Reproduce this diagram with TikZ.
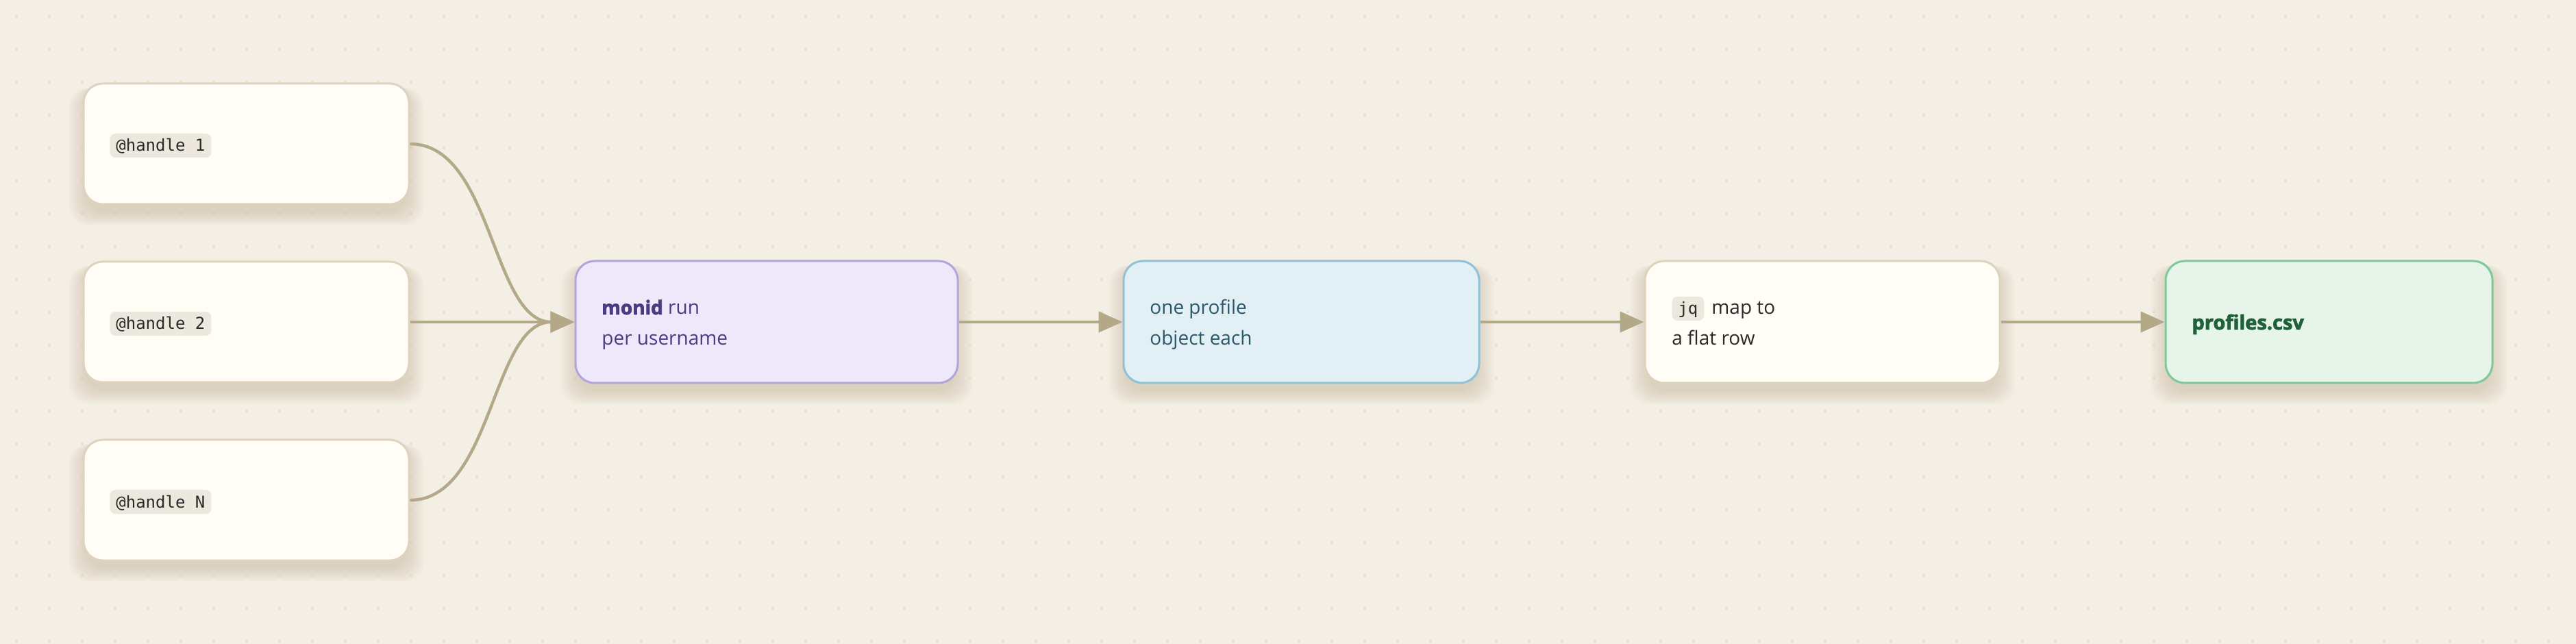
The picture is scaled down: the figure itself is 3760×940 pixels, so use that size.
\documentclass[tikz,border=0pt]{standalone}
\usepackage{fontspec}
\setmainfont{Open Sans}[BoldFeatures={FakeBold=2.5}]
\newfontfamily\codefont{DejaVu Sans Mono}
\usetikzlibrary{arrows.meta}
\definecolor{bgc}{HTML}{F3EFE5}
\definecolor{dotc}{HTML}{DFD8C7}
\definecolor{shadowc}{HTML}{A8966E}
\definecolor{plainfill}{HTML}{FFFDF6}
\definecolor{plainline}{HTML}{DDD3BF}
\definecolor{purplefill}{HTML}{EEE9FA}
\definecolor{purpleline}{HTML}{B4A4DE}
\definecolor{purpletext}{HTML}{4B3B82}
\definecolor{bluefill}{HTML}{E2F0F6}
\definecolor{blueline}{HTML}{8FC1D8}
\definecolor{bluetext}{HTML}{2A5868}
\definecolor{greenfill}{HTML}{E6F4EA}
\definecolor{greenline}{HTML}{80C79B}
\definecolor{greentext}{HTML}{1F6138}
\definecolor{conncol}{HTML}{B3A887}
\definecolor{codebg}{HTML}{EDE8DD}
\definecolor{darktext}{HTML}{2A2A2A}
\pgfdeclarelayer{bottom}
\pgfdeclarelayer{shade}
\pgfsetlayers{bottom,shade,main}
\tikzset{
  boxbase/.style={rounded corners=14pt, line width=1.5pt, inner sep=0pt, minimum height=89pt},
  plainbox/.style={boxbase, draw=plainline, fill=plainfill},
  purplebox/.style={boxbase, draw=purpleline, fill=purplefill},
  bluebox/.style={boxbase, draw=blueline, fill=bluefill},
  greenbox/.style={boxbase, draw=greenline, fill=greenfill},
  lbl/.style={font=\fontsize{14pt}{17pt}\selectfont, inner sep=0pt, anchor=base west},
  codelbl/.style={font=\codefont\fontsize{12pt}{14pt}\selectfont, fill=codebg, text=darktext,
    rounded corners=4pt, inner xsep=4.5pt, inner ysep=0pt, text height=13pt, text depth=4.5pt, anchor=base west},
  conn/.style={draw=conncol, line width=2.2pt, -{Triangle[length=17.5pt,width=15pt]}},
  shadelayer/.style={fill=shadowc, opacity=0.026, rounded corners=14pt}
}
\newcommand\boxshade[1]{%
  \begin{pgfonlayer}{shade}
  \foreach \k in {0,...,11} {%
    \fill[shadelayer] ([xshift=-\k*1.2pt+3pt, yshift=-5pt-\k*0.9pt]#1.south west) rectangle ([xshift=\k*1.2pt-3pt, yshift=-4pt]#1.north east);
  }
  \end{pgfonlayer}}
\begin{document}
\begin{tikzpicture}[x=0.5pt,y=-0.5pt]
\useasboundingbox (0,0) rectangle (3760,940);
\begin{pgfonlayer}{bottom}
\fill[bgc] (0,0) rectangle (3760,940);
\foreach \i in {0,...,77} {\foreach \j in {0,...,19} {\fill[dotc] (24+48*\i,24+48*\j) circle[radius=0.8pt];}}
\end{pgfonlayer}
% boxes
\node[plainbox, minimum width=237.5pt, minimum height=88pt] (h1) at (359.5,210) {};
\node[plainbox, minimum width=237.5pt, minimum height=88pt] (h2) at (359.5,470) {};
\node[plainbox, minimum width=237.5pt, minimum height=88pt] (hN) at (359.5,730) {};
\node[purplebox, minimum width=279pt] (m) at (1119,470) {};
\node[bluebox, minimum width=259.5pt] (p) at (1899.5,470) {};
\node[plainbox, minimum width=259pt] (j) at (2660,470) {};
\node[greenbox, minimum width=238.5pt] (c) at (3399.5,470) {};
\boxshade{h1}\boxshade{h2}\boxshade{hN}\boxshade{m}\boxshade{p}\boxshade{j}\boxshade{c}
% texts
\node[codelbl] (h1t) at (160,221) {@handle 1};
\node[codelbl] (h2t) at (160,481) {@handle 2};
\node[codelbl] (hNt) at (160,741) {@handle N};
\node[lbl, text=purpletext] (m1) at (878,459) {\textbf{monid} run};
\node[lbl, text=purpletext] (m2) at (878,504) {per username};
\node[lbl, text=bluetext] (p1) at (1678,459) {one profile};
\node[lbl, text=bluetext] (p2) at (1678,504) {object each};
\node[codelbl] (j0) at (2440,459) {jq};
\node[lbl, text=darktext] (j1) at (2498,459) {map to};
\node[lbl, text=darktext] (j2) at (2440,504) {a flat row};
\node[lbl, text=greentext, font=\fontsize{14.5pt}{17pt}\selectfont\bfseries] (c1) at (3199,481) {profiles.csv};
% connectors
\draw[conn] (h1.east) .. controls +(121,0) and +(-121,0) .. (m.west);
\draw[conn] (h2.east) -- (m.west);
\draw[conn] (hN.east) .. controls +(121,0) and +(-121,0) .. (m.west);
\draw[conn] (m.east) -- (p.west);
\draw[conn] (p.east) -- (j.west);
\draw[conn] (j.east) -- (c.west);
\end{tikzpicture}
\end{document}
